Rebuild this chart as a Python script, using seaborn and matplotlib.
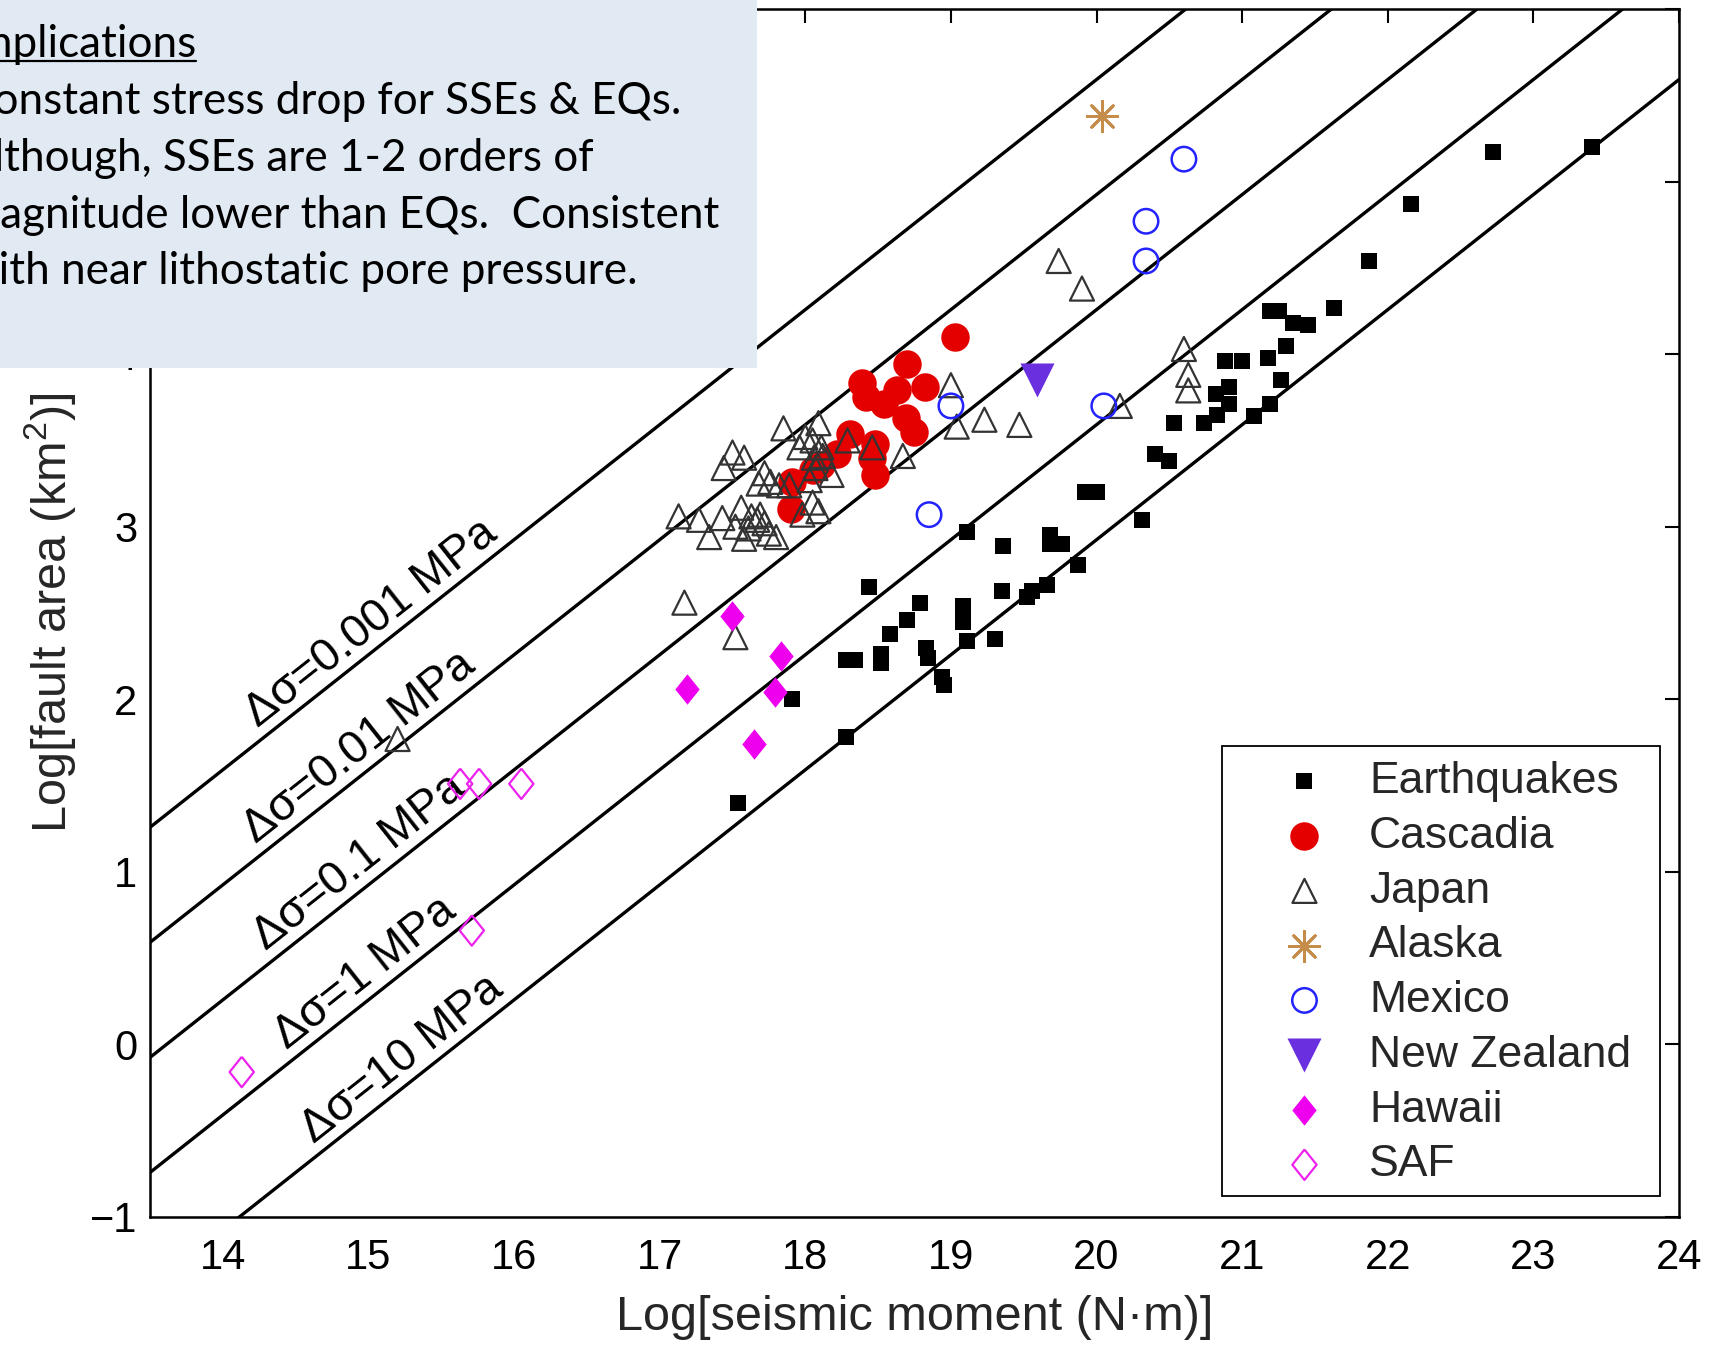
import numpy as np
import matplotlib
matplotlib.use("Agg")
import matplotlib.pyplot as plt
from matplotlib.patches import Rectangle
from matplotlib.lines import Line2D
import seaborn as sns

# ---------------- data (log10 seismic moment [N m], log10 fault area [km^2]) -------------
eq_m = [23.40, 22.72, 22.16, 21.87, 21.63, 21.19, 21.25, 21.35, 21.45, 21.30,
        20.88, 21.00, 21.18, 21.27, 20.91, 20.82, 20.91, 21.19, 20.83, 20.74,
        21.08, 20.53, 20.40, 20.50, 19.92, 20.00, 20.31,
        19.11, 19.36, 19.68, 19.68, 19.76, 19.87, 18.44, 19.35, 19.52, 19.56,
        19.66, 18.79, 19.08, 19.08, 18.70, 18.58, 19.11, 19.30, 18.28, 18.34,
        18.52, 18.52, 18.83, 18.84, 18.94, 18.95, 17.91, 18.28, 17.54]
eq_a = [5.20, 5.17, 4.87, 4.54, 4.27, 4.25, 4.25, 4.18, 4.17, 4.05,
        3.96, 3.96, 3.98, 3.85, 3.81, 3.77, 3.71, 3.71, 3.65, 3.60,
        3.64, 3.60, 3.42, 3.38, 3.20, 3.20, 3.04,
        2.97, 2.89, 2.95, 2.90, 2.90, 2.78, 2.65, 2.63, 2.59, 2.63,
        2.66, 2.56, 2.54, 2.45, 2.46, 2.38, 2.34, 2.35, 2.23, 2.23,
        2.26, 2.21, 2.30, 2.24, 2.13, 2.08, 2.00, 1.78, 1.40]

cas_m = [19.03, 18.70, 18.39, 18.82, 18.63, 18.42, 18.54, 18.69, 18.75, 18.31,
         18.48, 18.22, 18.46, 18.11, 18.05, 18.48, 17.91, 17.90]
cas_a = [4.10, 3.94, 3.83, 3.81, 3.79, 3.75, 3.71, 3.63, 3.55, 3.54,
         3.48, 3.42, 3.40, 3.36, 3.33, 3.30, 3.26, 3.10]

jp_m = [19.00, 19.04, 19.23, 19.47, 19.74, 19.90, 20.60, 20.63, 20.63, 20.16,
        18.67, 18.46, 18.29, 18.09, 17.85, 18.00, 18.05, 17.96, 18.11, 18.12,
        18.18, 18.06, 18.07, 18.03, 17.50, 17.58, 17.44, 17.72, 17.68, 17.76,
        17.82, 17.89, 18.05, 18.09, 17.98, 17.13, 17.27, 17.43, 17.56, 17.63,
        17.69, 17.52, 17.61, 17.34, 17.58, 17.75, 17.80, 17.67, 17.72,
        17.17, 17.52, 15.20]
jp_a = [3.82, 3.58, 3.62, 3.59, 4.54, 4.38, 4.03, 3.88, 3.79, 3.70,
        3.41, 3.46, 3.50, 3.60, 3.57, 3.52, 3.50, 3.46, 3.46, 3.41,
        3.30, 3.40, 3.34, 3.27, 3.43, 3.40, 3.34, 3.31, 3.25, 3.26,
        3.24, 3.24, 3.14, 3.09, 3.07, 3.06, 3.04, 3.05, 3.11, 3.06,
        3.07, 3.00, 2.99, 2.94, 2.93, 2.96, 2.94, 3.04, 3.02,
        2.56, 2.36, 1.77]

ak_m = [20.04]
ak_a = [5.38]

mx_m = [20.60, 20.34, 20.34, 19.00, 20.05, 18.85]
mx_a = [5.13, 4.77, 4.54, 3.70, 3.70, 3.07]

nz_m = [19.59]
nz_a = [3.85]

hw_m = [17.50, 17.19, 17.83, 17.79, 17.65]
hw_a = [2.48, 2.06, 2.25, 2.04, 1.74]

saf_m = [14.13, 15.71, 15.63, 15.76, 16.05]
saf_a = [-0.16, 0.66, 1.51, 1.51, 1.51]

stress_drops_mpa = [0.001, 0.01, 0.1, 1, 10]
stress_labels = ["Δσ=0.001 MPa", "Δσ=0.01 MPa", "Δσ=0.1 MPa", "Δσ=1 MPa", "Δσ=10 MPa"]
label_x = [15.02, 14.94, 14.94, 14.98, 15.23]

xticks = list(range(14, 25))
yticks = list(range(-1, 7))
ytick_labels = ["−1", "0", "1", "2", "3", "4", "", ""]   # 5 and 6 sit under the note box

box_lines = ["Implications",
             "Constant stress drop for SSEs & EQs.",
             "Although, SSEs are 1-2 orders of",
             "magnitude lower than EQs.  Consistent",
             "with near lithostatic pore pressure."]

# ---------------- style ----------------
sns.set_style("white")
plt.rcParams["font.family"] = ["Liberation Sans", "DejaVu Sans"]
plt.rcParams["mathtext.default"] = "regular"

W, H = 1715, 1348
fig = plt.figure(figsize=(W / 100, H / 100), dpi=100)
ax = fig.add_axes([150 / W, 1 - 1217 / H, 1529 / W, 1208 / H])

# constant stress-drop lines (circular crack: M0 = 16/(7 pi^1.5) * dsig * A^1.5)
C = 16 / (7 * np.pi ** 1.5)
xs = np.array([13.5, 24.0])
for ds, lab, lx in zip(stress_drops_mpa, stress_labels, label_x):
    la = (2 / 3) * (xs - np.log10(C) - np.log10(ds * 1e6)) - 6
    sns.lineplot(x=xs, y=la, ax=ax, color="black", linewidth=2.4, zorder=4,
                 sort=False, estimator=None)
    ly = (2 / 3) * (lx - np.log10(C) - np.log10(ds * 1e6)) - 6 + 0.17
    ax.text(lx, ly, lab, fontsize=33, rotation=np.degrees(np.arctan(2 / 3)),
            transform_rotates_text=True, rotation_mode="anchor",
            ha="center", va="center", color="black", zorder=4)

diamond = [(0, 1), (0.8, 0), (0, -1), (-0.8, 0), (0, 1)]

sns.scatterplot(x=eq_m, y=eq_a, ax=ax, marker="s", s=125, color="black",
                edgecolor="black", linewidth=0, label="Earthquakes", zorder=5)
sns.scatterplot(x=cas_m, y=cas_a, ax=ax, marker="o", s=420, color="#e50000",
                edgecolor="#e50000", linewidth=0, label="Cascadia", zorder=5)
sns.scatterplot(x=jp_m, y=jp_a, ax=ax, marker="^", s=300, facecolor="none",
                edgecolor="#333333", linewidth=1.6, label="Japan", zorder=6)
sns.scatterplot(x=ak_m, y=ak_a, ax=ax, marker=(8, 2, 0), s=480, color="#c58c4a",
                linewidth=2.0, label="Alaska", zorder=6)
sns.scatterplot(x=mx_m, y=mx_a, ax=ax, marker="o", s=310, facecolor="none",
                edgecolor="#2323ff", linewidth=1.8, label="Mexico", zorder=6)
sns.scatterplot(x=nz_m, y=nz_a, ax=ax, marker="v", s=600, color="#6a30e0",
                edgecolor="#6a30e0", linewidth=0, label="New Zealand", zorder=6)
sns.scatterplot(x=hw_m, y=hw_a, ax=ax, marker=diamond, s=480, color="#ee00ee",
                edgecolor="#ee00ee", linewidth=0, label="Hawaii", zorder=6)
sns.scatterplot(x=saf_m, y=saf_a, ax=ax, marker=diamond, s=480, facecolor="none",
                edgecolor="#ee22ee", linewidth=1.6, label="SAF", zorder=6)

ax.set_xlim(13.5, 24)
ax.set_ylim(-1, 6)
ax.set_xticks(xticks)
ax.set_yticks(yticks)
ax.set_yticklabels(ytick_labels)
ax.tick_params(axis="both", direction="in", length=10, width=1.5, top=True,
               right=True, labelsize=30, colors="black")
ax.tick_params(axis="x", pad=15)
ax.tick_params(axis="y", pad=9)
for sp in ax.spines.values():
    sp.set_visible(True)
    sp.set_linewidth(1.8)
    sp.set_color("black")
ax.set_xlabel("Log[seismic moment (N·m)]", fontsize=35, labelpad=12)
ax.set_ylabel("Log[fault area (km$^2$)]", fontsize=35, labelpad=9)
ax.grid(False)

# legend frame (drawn separately so its padding matches the reference)
ax.add_patch(Rectangle((0.7011, 0.0174), 0.9876 - 0.7011, 0.3899 - 0.0174,
                       transform=ax.transAxes, facecolor="white", edgecolor="black",
                       linewidth=1.3, zorder=7, clip_on=False))
leg = ax.legend(loc="upper left", bbox_to_anchor=(0.7129, 0.3775), fontsize=32,
                frameon=False, borderpad=0, labelspacing=0.31, handletextpad=0.0,
                handlelength=2.9, borderaxespad=0, scatterpoints=1)
leg.set_zorder(8)

# ---------------- overlay text box (top left) ----------------
fig.add_artist(Rectangle((0, 1 - 368 / H), 757 / W, 368 / H, transform=fig.transFigure,
                         facecolor="#e1e9f3", edgecolor="none", zorder=20))
renderer = fig.canvas.get_renderer()
probe = fig.text(0, 0, box_lines[3], fontsize=30, family="Lato")
w_line = probe.get_window_extent(renderer).width
probe.set_text("m")
w_m = probe.get_window_extent(renderer).width
probe.remove()
fs = 30 * 716 / (w_line - w_m)
x0 = -w_m * fs / 30
baselines = [57, 114, 171, 227.5, 284.4]
texts = []
for line, b in zip(box_lines, baselines):
    t = fig.text(x0 / W, 1 - b / H, line, fontsize=fs, family="Lato", ha="left",
                 va="baseline", color="black", zorder=21)
    texts.append(t)
bb = texts[0].get_window_extent(renderer)
fig.add_artist(Line2D([0, bb.x1 / W], [1 - 61 / H, 1 - 61 / H], transform=fig.transFigure,
                      color="black", linewidth=1.6, zorder=21))

fig.savefig("out.png", dpi=100)
